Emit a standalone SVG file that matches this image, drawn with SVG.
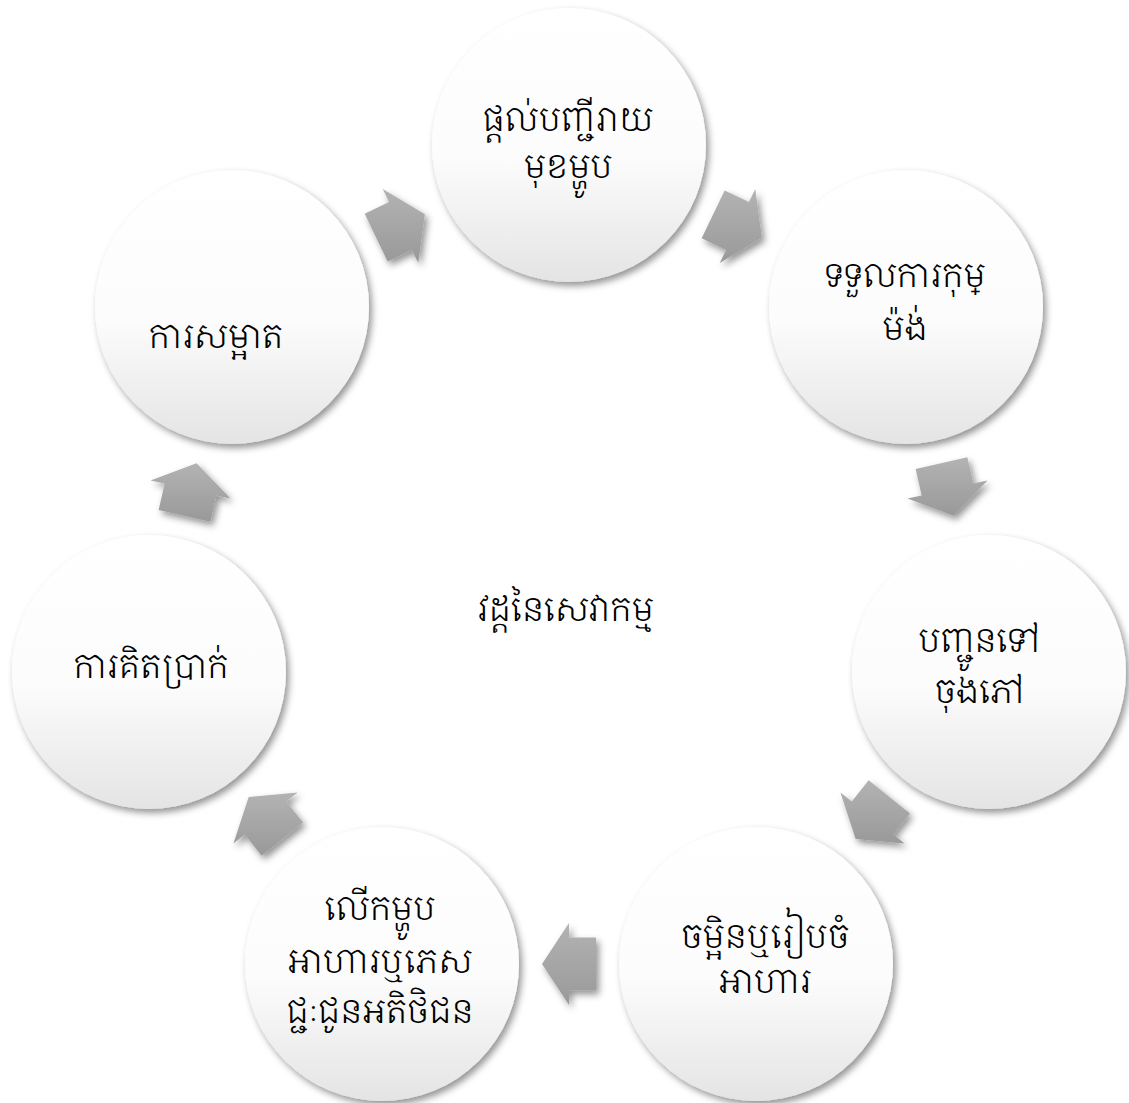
<svg xmlns="http://www.w3.org/2000/svg" width="1129" height="1103" viewBox="0 0 1129 1103">
<defs>
<linearGradient id="cg" x1="0" y1="0" x2="0" y2="1">
<stop offset="0" stop-color="#ffffff"/>
<stop offset="0.55" stop-color="#fcfcfc"/>
<stop offset="1" stop-color="#e4e4e4"/>
</linearGradient>
<linearGradient id="ag" x1="0" y1="0" x2="0" y2="1">
<stop offset="0" stop-color="#b3b3b3"/>
<stop offset="1" stop-color="#999999"/>
</linearGradient>
<filter id="sh" x="-20%" y="-20%" width="150%" height="150%">
<feDropShadow dx="3" dy="4" stdDeviation="3.5" flood-color="#000000" flood-opacity="0.42"/>
</filter>
</defs>
<style>
.c{fill:url(#cg);filter:url(#sh)}
.a{fill:url(#ag);filter:url(#sh)}
.t{font-family:'Noto Serif Khmer','Khmer OS System','Khmer OS','Noto Sans Khmer','Noto Sans',serif;font-size:34px;font-weight:300;fill:#000000;text-anchor:middle}
</style>
<rect width="1129" height="1103" fill="#ffffff"/>
<g id="connectors">
<polygon class="a" points="724.64,190.42 748.98,202.12 755.27,189.05 761.84,237.70 719.73,262.95 726.02,249.88 701.68,238.18"/>
<polygon class="a" points="967.35,457.29 973.34,483.62 987.48,480.41 953.49,515.83 907.52,498.59 921.66,495.38 915.67,469.05"/>
<polygon class="a" points="910.05,813.43 893.21,834.53 904.55,843.57 855.66,839.10 840.45,792.43 851.79,801.47 868.63,780.37"/>
<polygon class="a" points="596,990.5 569,990.5 569,1005 542,964 569,923 569,937.5 596,937.5"/>
<polygon class="a" points="261.63,855.63 244.79,834.53 233.45,843.57 248.66,796.90 297.55,792.43 286.21,801.47 303.05,822.57"/>
<polygon class="a" points="158.67,509.95 164.66,483.62 150.52,480.41 196.49,463.17 230.48,498.59 216.34,495.38 210.35,521.71"/>
<polygon class="a" points="364.68,213.82 389.02,202.12 382.73,189.05 424.84,214.30 418.27,262.95 411.98,249.88 387.64,261.58"/>
</g>
<g id="node1">
<circle class="c" cx="569" cy="145" r="137"/>
<text class="t" x="568" y="131">ផ្តល់បញ្ជីរាយ</text>
<text class="t" x="568" y="178">មុខម្ហូប</text>
</g>
<g id="node2">
<circle class="c" cx="906" cy="307" r="137"/>
<text class="t" x="905" y="287">ទទួលការកុម្</text>
<text class="t" x="905" y="340">ម៉ង់</text>
</g>
<g id="node3">
<circle class="c" cx="989" cy="672" r="137"/>
<text class="t" x="980" y="652">បញ្ជូនទៅ</text>
<text class="t" x="980" y="703">ចុងភៅ</text>
</g>
<g id="node4">
<circle class="c" cx="756" cy="964" r="137"/>
<text class="t" x="765" y="948">ចម្អិនឬរៀបចំ</text>
<text class="t" x="765" y="993">អាហារ</text>
</g>
<g id="node5">
<circle class="c" cx="382" cy="964" r="137"/>
<text class="t" x="380" y="920">លើកម្ហូប</text>
<text class="t" x="380" y="973">អាហារឬភេស</text>
<text class="t" x="380" y="1023">ជ្ជៈជូនអតិថិជន</text>
</g>
<g id="node6">
<circle class="c" cx="149" cy="672" r="137"/>
<text class="t" x="151" y="678">ការគិតប្រាក់</text>
</g>
<g id="node7">
<circle class="c" cx="232" cy="307" r="137"/>
<text class="t" x="216" y="348">ការសម្អាត</text>
</g>
<g id="center">
<text class="t" x="566" y="621">វដ្តនៃសេវាកម្ម</text>
</g>
</svg>
